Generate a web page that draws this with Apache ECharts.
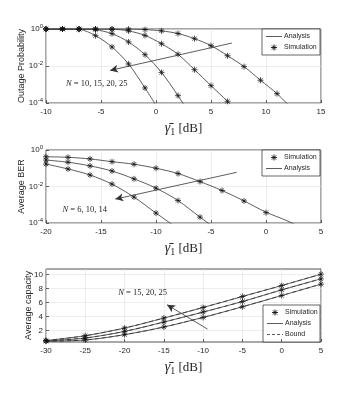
<!DOCTYPE html>
<html>
<head>
<meta charset="utf-8">
<script src="https://cdn.jsdelivr.net/npm/echarts@6/dist/echarts.min.js"></script>
<style>
  html, body { margin: 0; padding: 0; background: #fff; }
  #main { width: 355px; height: 399px; }
</style>
</head>
<body>
<div id="main"></div>
<script>
// ---- outage probability (top plot) ----
var snrOut = [-10, -8.5, -7, -5.5, -4, -2.5, -1, 0.5, 2, 3.5, 5, 6.5, 8, 9.5, 11, 12.5];
var outN10 = [1, 1, 0.96, 0.437, 0.107, 0.0129, 6.5e-4, 2.5e-5, null, null, null, null, null, null, null, null];
var outN15 = [1, 1, 1, 0.91, 0.56, 0.20, 0.041, 0.0045, 2.5e-4, 1e-5, null, null, null, null, null, null];
var outN20 = [1, 1, 1, 1, 0.98, 0.79, 0.45, 0.16, 0.043, 0.0063, 8.7e-4, 1.23e-4, 1.6e-5, null, null, null];
var outN25 = [1, 1, 1, 1, 1, 0.99, 0.93, 0.79, 0.57, 0.30, 0.126, 0.036, 0.0093, 0.0017, 3.2e-4, 4e-5];

// ---- average BER (middle plot) ----
var snrBer = [-20, -18, -16, -14, -12, -10, -8, -6, -4, -2, 0, 2, 4];
var berAnaN6  = [0.427, 0.398, 0.324, 0.229, 0.166, 0.1, 0.0513, 0.0186, 0.00603, 0.00162, 3.9e-4, 1.26e-4, 3e-5];
var berAnaN10 = [0.282, 0.214, 0.135, 0.0708, 0.0263, 0.00813, 0.0017, 2.1e-4, 2.8e-5, null, null, null, null];
var berAnaN14 = [0.17, 0.0912, 0.0427, 0.0135, 0.00263, 3.5e-4, 5e-5, null, null, null, null, null, null];
var berSimN6  = [0.427, 0.398, 0.324, 0.229, 0.166, 0.1, 0.0513, 0.0186, 0.00603, 0.00162, 3.7e-4, null, null];
var berSimN10 = [0.282, 0.214, 0.135, 0.0708, 0.0263, 0.00813, 0.0017, 2.1e-4, null, null, null, null, null];
var berSimN14 = [0.17, 0.0912, 0.0427, 0.0135, 0.00263, 3.5e-4, null, null, null, null, null, null, null];

// ---- average capacity (bottom plot) ----
var snrCap = [-30, -25, -20, -15, -10, -5, 0, 5];
var capN25 = [0.55, 1.24, 2.34, 3.77, 5.29, 6.86, 8.43, 10.06];
var capN20 = [0.5, 0.91, 1.86, 3.20, 4.63, 6.14, 7.81, 9.39];
var capN15 = [0.45, 0.63, 1.39, 2.49, 3.86, 5.39, 7.00, 8.63];
var capTicks = [2, 4, 6, 8, 10];

var ink = '#262626';
var star = 'path://M0,5H10M5,0V10M1.5,1.5L8.5,8.5M1.5,8.5L8.5,1.5';

function pairs(xs, ys) {
  var out = [];
  for (var i = 0; i < xs.length; i++) {
    if (ys[i] != null) out.push([xs[i], ys[i]]);
  }
  return out;
}

function arrowLine(from, to) {
  return {
    silent: true, symbol: ['none', 'arrow'], symbolSize: [6, 8],
    label: { show: false },
    lineStyle: { color: '#333', width: 0.8, type: 'solid' },
    data: [[{ coord: from }, { coord: to }]]
  };
}

function anaLine(g, xs, ys, dashed, arrow) {
  var s = {
    type: 'line', name: dashed ? 'Bound' : 'Analysis',
    xAxisIndex: g, yAxisIndex: g, data: pairs(xs, ys),
    color: '#333',
    symbol: 'none', smooth: 0.3, clip: true,
    lineStyle: { color: '#333', width: 0.8, type: dashed ? [4, 3] : 'solid' },
    z: 2
  };
  if (arrow) s.markLine = arrowLine(arrow[0], arrow[1]);
  return s;
}
function simDots(g, xs, ys) {
  return {
    type: 'scatter', name: 'Simulation',
    xAxisIndex: g, yAxisIndex: g, data: pairs(xs, ys),
    color: '#111',
    symbol: star, symbolSize: 6, clip: true,
    itemStyle: { color: 'transparent', borderColor: '#111', borderWidth: 0.9 },
    z: 3
  };
}

function logLabel(v) {
  var e = Math.round(Math.log10(v));
  return '{b|10}{s|' + e + '}';
}

var tickFont = { color: ink, fontSize: 8, fontFamily: 'Liberation Sans' };
var xName = '{g|γ̄}{sub|1} {u|[dB]}';
var xNameStyle = {
  color: ink,
  rich: {
    g: { fontFamily: 'Liberation Serif', fontSize: 14, fontStyle: 'italic', color: ink },
    sub: { fontFamily: 'Liberation Serif', fontSize: 10, color: ink, padding: [7, 0, 0, 0] },
    u: { fontFamily: 'Liberation Serif', fontSize: 13, color: ink }
  }
};

function xAxis(g, min, max) {
  return {
    type: 'value', gridIndex: g, min: min, max: max, interval: 5,
    axisLine: { show: false, onZero: false },
    axisTick: { inside: true, length: 3, lineStyle: { color: ink, width: 0.7 } },
    axisLabel: Object.assign({ margin: 5 }, tickFont),
    splitLine: { show: true, lineStyle: { color: '#e3e3e3', width: 0.6 } },
    name: xName, nameLocation: 'middle', nameGap: 17, nameTextStyle: xNameStyle
  };
}
function yLogAxis(g, name, gap) {
  return {
    type: 'log', logBase: 10, gridIndex: g, min: 1e-4, max: 1, interval: 2,
    axisLine: { show: false, onZero: false },
    axisTick: { inside: true, length: 3, lineStyle: { color: ink, width: 0.7 } },
    minorTick: { show: false },
    axisLabel: Object.assign({
      margin: 3, formatter: logLabel,
      rich: {
        b: { fontSize: 8, color: ink, fontFamily: 'Liberation Sans' },
        s: { fontSize: 6, color: ink, fontFamily: 'Liberation Sans', padding: [0, 0, 5, 0] }
      }
    }, tickFont),
    splitLine: { show: true, lineStyle: { color: '#e3e3e3', width: 0.6 } },
    name: name, nameLocation: 'middle', nameGap: gap, nameMoveOverlap: false,
    nameTextStyle: { color: ink, fontSize: 9, fontFamily: 'Liberation Sans' }
  };
}

var gridBase = { show: true, borderColor: ink, borderWidth: 0.8, backgroundColor: '#fff' };

var option = {
  animation: false,
  backgroundColor: '#fff',
  grid: [
    Object.assign({ left: 46, top: 29, width: 275, height: 74 }, gridBase),
    Object.assign({ left: 46, top: 150, width: 275, height: 73 }, gridBase),
    Object.assign({ left: 46, top: 269, width: 275, height: 73 }, gridBase)
  ],
  xAxis: [xAxis(0, -10, 15), xAxis(1, -20, 5), xAxis(2, -30, 5)],
  yAxis: [
    yLogAxis(0, 'Outage Probability', 20),
    yLogAxis(1, 'Average BER', 20),
    {
      type: 'value', gridIndex: 2, min: 0.34, max: 10.8,
      axisLine: { show: false, onZero: false },
      axisTick: { inside: true, length: 3, customValues: capTicks, lineStyle: { color: ink, width: 0.7 } },
      axisLabel: Object.assign({ margin: 3, customValues: capTicks }, tickFont),
      splitLine: { show: true, lineStyle: { color: '#e3e3e3', width: 0.6 } },
      name: 'Average capacity', nameLocation: 'middle', nameGap: 13, nameMoveOverlap: false,
      nameTextStyle: { color: ink, fontSize: 9, fontFamily: 'Liberation Sans' }
    }
  ],
  series: [
    anaLine(0, snrOut, outN10, false, [[6.9, 0.174], [-4.18, 0.00575]]),
    anaLine(0, snrOut, outN15), anaLine(0, snrOut, outN20), anaLine(0, snrOut, outN25),
    simDots(0, snrOut, outN10), simDots(0, snrOut, outN15), simDots(0, snrOut, outN20), simDots(0, snrOut, outN25),

    simDots(1, snrBer, berSimN6), simDots(1, snrBer, berSimN10), simDots(1, snrBer, berSimN14),
    anaLine(1, snrBer, berAnaN6, false, [[-2.66, 0.060], [-13.7, 0.00204]]),
    anaLine(1, snrBer, berAnaN10), anaLine(1, snrBer, berAnaN14),

    simDots(2, snrCap, capN25), simDots(2, snrCap, capN20), simDots(2, snrCap, capN15),
    anaLine(2, snrCap, capN25, false, [[-9.45, 2.2], [-14.6, 5.67]]),
    anaLine(2, snrCap, capN20), anaLine(2, snrCap, capN15),
    anaLine(2, snrCap, capN25, true), anaLine(2, snrCap, capN20, true), anaLine(2, snrCap, capN15, true)
  ]
};

var chart = echarts.init(document.getElementById('main'));
chart.setOption(option);

// MATLAB-style legend boxes (drawn, since each subplot has its own)
function legendBox(x, y, w, rows) {
  var rowH = 11, kids = [];
  kids.push({
    type: 'rect', shape: { x: x, y: y, width: w, height: rows.length * rowH + 4 },
    style: { fill: '#fff', stroke: ink, lineWidth: 0.7 }
  });
  rows.forEach(function (r, i) {
    var cy = y + 2 + rowH * i + rowH / 2;
    if (r[0] === 'star') {
      var cx = x + 12, a = 3, d = 2.1;
      [[-a, 0, a, 0], [0, -a, 0, a], [-d, -d, d, d], [-d, d, d, -d]].forEach(function (s) {
        kids.push({
          type: 'line', shape: { x1: cx + s[0], y1: cy + s[1], x2: cx + s[2], y2: cy + s[3] },
          style: { stroke: '#111', lineWidth: 0.9 }
        });
      });
    } else {
      kids.push({
        type: 'line', shape: { x1: x + 4, y1: cy, x2: x + 20, y2: cy },
        style: { stroke: '#333', lineWidth: 0.8, lineDash: r[0] === 'dash' ? [3, 2] : null }
      });
    }
    kids.push({
      type: 'text', x: x + 22, y: cy,
      style: { text: r[1], fill: ink, fontSize: 7, fontFamily: 'Liberation Sans', verticalAlign: 'middle' }
    });
  });
  return { type: 'group', z: 20, children: kids };
}

// N = ... annotations, placed at data coordinates
var notes = [
  { g: 0, at: [-8.18, 0.0011], text: '{i|N} = 10, 15, 20, 25' },
  { g: 1, at: [-18.5, 5.2e-4], text: '{i|N} = 6, 10, 14' },
  { g: 2, at: [-20.8, 7.34], text: '{i|N} = 15, 20, 25' }
];
var graphics = notes.map(function (n) {
  var p = chart.convertToPixel({ xAxisIndex: n.g, yAxisIndex: n.g }, n.at);
  return {
    type: 'text', x: p[0], y: p[1], z: 10,
    style: {
      text: n.text, fill: ink, fontSize: 8.5, fontFamily: 'Liberation Serif',
      verticalAlign: 'middle', align: 'left',
      rich: { i: { fontStyle: 'italic', fontSize: 8.5, fontFamily: 'Liberation Serif', fill: ink } }
    }
  };
});
graphics.push(legendBox(262, 29, 58, [['line', 'Analysis'], ['star', 'Simulation']]));
graphics.push(legendBox(262, 150, 58, [['star', 'Simulation'], ['line', 'Analysis']]));
graphics.push(legendBox(263, 305, 57, [['star', 'Simulation'], ['line', 'Analysis'], ['dash', 'Bound']]));
chart.setOption({ graphic: graphics });
</script>
</body>
</html>
